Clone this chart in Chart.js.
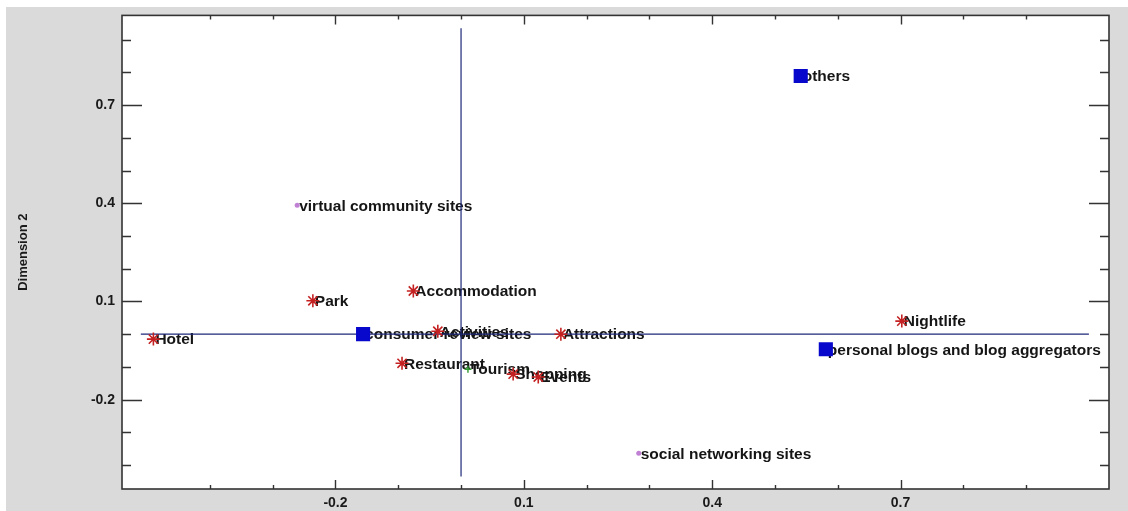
<!DOCTYPE html>
<html>
<head>
<meta charset="utf-8">
<script src="https://cdn.jsdelivr.net/npm/chart.js@4.4.1/dist/chart.umd.min.js"></script>
<style>
  html, body { margin: 0; padding: 0; background: #fff; }
  #wrap { width: 1128px; height: 511px; position: relative; }
</style>
</head>
<body>
<div id="wrap"><canvas id="chart"></canvas></div>
<script>
// attributes (red stars)
const attrNames = ['Hotel', 'Park', 'Accommodation', 'Activities', 'Restaurant', 'Shopping', 'Events', 'Attractions', 'Nightlife'];
const attrX = [-0.490, -0.236, -0.076, -0.037, -0.094, 0.083, 0.123, 0.159, 0.702];
const attrY = [-0.015, 0.102, 0.132, 0.009, -0.089, -0.122, -0.131, 0.000, 0.040];

// review sources (blue squares)
const siteNames = ['consumer review sites', 'personal blogs and blog aggregators', 'others'];
const siteX = [-0.156, 0.581, 0.541];
const siteY = [0.000, -0.046, 0.789];

// community sources (small circles)
const commNames = ['virtual community sites', 'social networking sites'];
const commX = [-0.261, 0.283];
const commY = [0.394, -0.364];

// tourism (green cross)
const tourNames = ['Tourism'];
const tourX = [0.011];
const tourY = [-0.107];

// axis ticks
const xTickValues = [-0.4, -0.3, -0.2, -0.1, 0, 0.1, 0.2, 0.3, 0.4, 0.5, 0.6, 0.7, 0.8, 0.9];
const xTickLabels = ['-0.2', '0.1', '0.4', '0.7'];
const yTickValues = [-0.4, -0.3, -0.2, -0.1, 0, 0.1, 0.2, 0.3, 0.4, 0.5, 0.6, 0.7, 0.8, 0.9];
const yTickLabels = ['-0.2', '0.1', '0.4', '0.7'];
const xRange = [-0.54, 1.032];
const yRange = [-0.473, 0.974];

// origin lines
const hLineX = [-0.51, 1.0];
const vLineY = [-0.435, 0.935];

const pts = (xs, ys) => xs.map((x, i) => ({ x: x, y: ys[i] }));
const labelFont = 'bold 15.5px "Liberation Sans", Arial, sans-serif';

const frame = {
    id: 'frame',
    beforeDraw(chart) {
        const { ctx, chartArea: a, width, height } = chart;
        ctx.save();
        ctx.fillStyle = '#fff';
        ctx.fillRect(0, 0, width, height);
        ctx.fillStyle = '#dadada';
        ctx.fillRect(6, 7, width - 6, height - 7);
        ctx.fillStyle = '#fff';
        ctx.fillRect(a.left, a.top, a.right - a.left, a.bottom - a.top);
        ctx.restore();
    },
    beforeDatasetsDraw(chart) {
        // point labels, drawn under the marks
        const ctx = chart.ctx;
        ctx.save();
        ctx.font = labelFont;
        ctx.fillStyle = '#151515';
        ctx.textAlign = 'left';
        ctx.textBaseline = 'middle';
        chart.data.datasets.forEach((ds, i) => {
            if (!ds.names) return;
            chart.getDatasetMeta(i).data.forEach((el, j) => {
                ctx.fillText(ds.names[j], el.x + 2, el.y + 1);
            });
        });
        ctx.restore();
    },
    afterDraw(chart) {
        // box and inward ticks
        const { ctx, chartArea: a, scales } = chart;
        ctx.save();
        ctx.strokeStyle = '#333';
        ctx.lineWidth = 1.6;
        ctx.strokeRect(a.left, a.top, a.right - a.left, a.bottom - a.top);
        ctx.lineWidth = 1.4;
        ctx.beginPath();
        xTickValues.forEach(v => {
            const px = Math.round(scales.x.getPixelForValue(v)) + 0.5;
            const major = xTickLabels.includes(v.toFixed(1));
            const len = major ? 9 : 4;
            ctx.moveTo(px, a.bottom); ctx.lineTo(px, a.bottom - len);
            ctx.moveTo(px, a.top); ctx.lineTo(px, a.top + len);
        });
        yTickValues.forEach(v => {
            const py = Math.round(scales.y.getPixelForValue(v)) + 0.5;
            const major = yTickLabels.includes(v.toFixed(1));
            const len = major ? 20 : 9;
            ctx.moveTo(a.left, py); ctx.lineTo(a.left + len, py);
            ctx.moveTo(a.right, py); ctx.lineTo(a.right - len, py);
        });
        ctx.stroke();
        ctx.restore();
    }
};

const tickFont = { family: '"Liberation Sans", Arial, sans-serif', size: 14, weight: 'bold' };

new Chart(document.getElementById('chart'), {
    type: 'scatter',
    data: {
        datasets: [
            {
                data: pts(siteX, siteY), names: siteNames, order: 0,
                pointStyle: 'rect', pointRadius: 10, backgroundColor: '#0808cc', borderColor: '#0808cc', borderWidth: 0
            },
            {
                data: pts(attrX, attrY), names: attrNames, order: 1,
                pointStyle: 'star', pointRadius: 6.5, borderColor: '#c42222', borderWidth: 1.6
            },
            {
                data: pts(commX, commY), names: commNames, order: 1,
                pointStyle: 'circle', pointRadius: 2.5, backgroundColor: '#c080d4', borderColor: '#c080d4', borderWidth: 0
            },
            {
                data: pts(tourX, tourY), names: tourNames, order: 1,
                pointStyle: 'cross', pointRadius: 3.5, borderColor: '#2f9a2f', borderWidth: 1.4
            },
            {
                data: pts(hLineX, [0, 0]), order: 2, showLine: true,
                pointRadius: 0, borderColor: '#1e2878', borderWidth: 1.2
            },
            {
                data: pts([0, 0], vLineY), order: 2, showLine: true,
                pointRadius: 0, borderColor: '#1e2878', borderWidth: 1.2
            }
        ]
    },
    options: {
        responsive: true,
        maintainAspectRatio: false,
        animation: false,
        layout: { padding: { top: 15, right: 19, left: 0, bottom: 0 } },
        plugins: {
            legend: { display: false },
            tooltip: { enabled: false }
        },
        scales: {
            x: {
                type: 'linear',
                min: xRange[0],
                max: xRange[1],
                grid: { display: false, drawTicks: false },
                border: { display: false },
                afterBuildTicks: s => { s.ticks = xTickValues.map(v => ({ value: v })); },
                afterFit: s => { s.height = 22; },
                ticks: {
                    autoSkip: false,
                    maxRotation: 0,
                    padding: 6,
                    color: '#1a1a1a',
                    font: tickFont,
                    callback: v => xTickLabels.includes(Number(v).toFixed(1)) ? Number(v).toFixed(1) : ''
                }
            },
            y: {
                type: 'linear',
                min: yRange[0],
                max: yRange[1],
                grid: { display: false, drawTicks: false },
                border: { display: false },
                afterBuildTicks: s => { s.ticks = yTickValues.map(v => ({ value: v })); },
                afterFit: s => { s.width = 122; },
                title: {
                    display: true,
                    text: 'Dimension 2',
                    color: '#1a1a1a',
                    padding: { top: 16, bottom: 0 },
                    font: { family: '"Liberation Sans Narrow", "Arial Narrow", "Liberation Sans", Arial, sans-serif', size: 13, weight: 'bold' }
                },
                ticks: {
                    autoSkip: false,
                    padding: 7,
                    color: '#1a1a1a',
                    font: tickFont,
                    callback: v => yTickLabels.includes(Number(v).toFixed(1)) ? Number(v).toFixed(1) : ''
                }
            }
        }
    },
    plugins: [frame]
});
</script>
</body>
</html>
